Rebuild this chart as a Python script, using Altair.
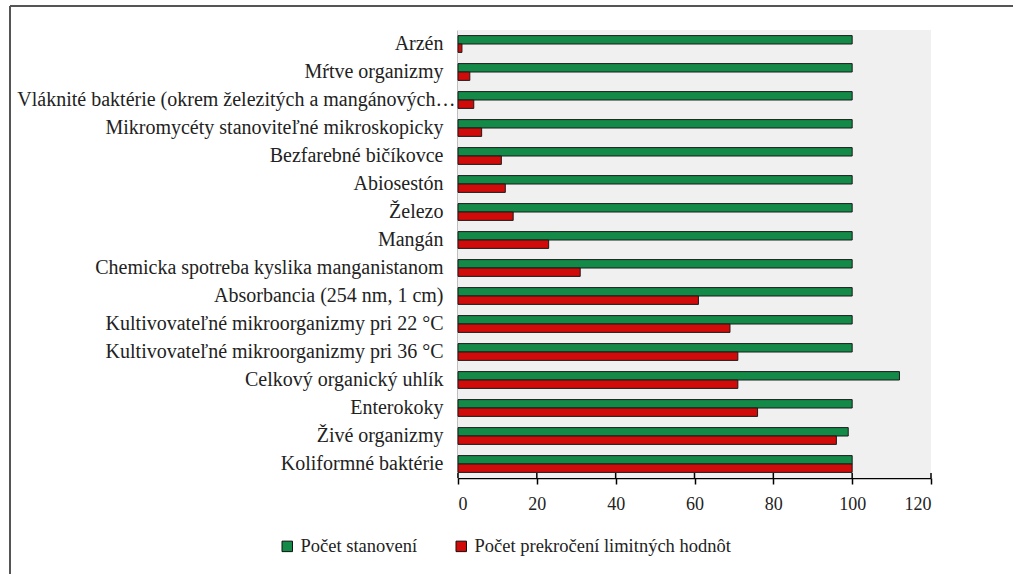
import altair as alt
import pandas as pd

categories = [
    "Arzén",
    "Mŕtve organizmy",
    "Vláknité baktérie (okrem železitých a mangánových…",
    "Mikromycéty stanoviteľné mikroskopicky",
    "Bezfarebné bičíkovce",
    "Abiosestón",
    "Železo",
    "Mangán",
    "Chemicka spotreba kyslika manganistanom",
    "Absorbancia (254 nm, 1 cm)",
    "Kultivovateľné mikroorganizmy pri 22 °C",
    "Kultivovateľné mikroorganizmy pri 36 °C",
    "Celkový organický uhlík",
    "Enterokoky",
    "Živé organizmy",
    "Koliformné baktérie",
]
stanovenia = [100, 100, 100, 100, 100, 100, 100, 100, 100, 100, 100, 100, 112, 100, 99, 100]
prekrocenia = [1, 3, 4, 6, 11, 12, 14, 23, 31, 61, 69, 71, 71, 76, 96, 100]
series = ["Počet stanovení", "Počet prekročení limitných hodnôt"]
colors = ["#138a47", "#d10a0a"]
x_ticks = [0, 20, 40, 60, 80, 100, 120]

rows = []
for c, a, b in zip(categories, stanovenia, prekrocenia):
    rows.append({"kat": c, "seria": series[0], "hodnota": a})
    rows.append({"kat": c, "seria": series[1], "hodnota": b})
df = pd.DataFrame(rows)

W, H = 473, 448
FONT = "Liberation Serif"

x_scale = alt.Scale(domain=[0, 120], nice=False)

bg = alt.Chart(pd.DataFrame({"a": [0], "b": [120]})).mark_rect(color="#f0f0f0").encode(
    x=alt.X("a:Q", scale=x_scale), x2="b:Q", y=alt.value(0), y2=alt.value(H)
)

# the long truncated label sits closer to the axis line
long_label_padding = {
    "condition": {"test": f"datum.value === '{categories[2]}'", "value": 3},
    "value": 15,
}

bars = alt.Chart(df).mark_bar(stroke="#1b1b1b", strokeWidth=1).encode(
    x=alt.X(
        "hodnota:Q",
        scale=x_scale,
        axis=alt.Axis(
            values=x_ticks, title=None, grid=False, domainColor="#000", domainWidth=1.5,
            tickColor="#000", tickSize=6, tickWidth=1.5, labelPadding=11, labelFontSize=18,
        ),
    ),
    y=alt.Y(
        "kat:N",
        sort=categories,
        scale=alt.Scale(paddingInner=0.4, paddingOuter=0.2),
        axis=alt.Axis(
            title=None, ticks=False, domainColor="#000", domainWidth=1.5,
            labelPadding=long_label_padding, labelLimit=500, labelFontSize=20,
        ),
    ),
    yOffset=alt.YOffset("seria:N", sort=series),
    color=alt.Color(
        "seria:N",
        sort=series,
        scale=alt.Scale(domain=series, range=colors),
        legend=alt.Legend(
            title=None, orient="none", direction="horizontal", legendX=-180, legendY=507,
            symbolType="square", symbolSize=110, symbolStrokeColor="#111", symbolStrokeWidth=1,
            labelLimit=500, columnPadding=34, labelOffset=4, labelFontSize=18.5,
        ),
    ),
)

# crossing tick halves above the x axis line
ticks_up = alt.Chart(pd.DataFrame({"t": x_ticks})).mark_rule(color="#000", strokeWidth=1.5).encode(
    x=alt.X("t:Q", scale=x_scale), y=alt.value(H - 5), y2=alt.value(H)
)

# outer frame around the figure
frame = alt.Chart(pd.DataFrame({"f": [0]})).mark_rule(color="#555", strokeWidth=2).encode(
    x=alt.value(-448), x2=alt.value(560), y=alt.value(-24)
)
frame_left = alt.Chart(pd.DataFrame({"f": [0]})).mark_rule(color="#555", strokeWidth=2).encode(
    x=alt.value(-448), y=alt.value(-24), y2=alt.value(560)
)

chart = (
    alt.layer(bg, bars, ticks_up, frame, frame_left)
    .properties(
        width=W, height=H,
        autosize=alt.AutoSizeParams(type="none"),
        padding={"left": 458, "top": 30, "right": 82, "bottom": 96},
        background="white",
    )
    .configure(font=FONT)
    .configure_axis(labelFont=FONT, labelColor="#222")
    .configure_legend(labelFont=FONT, labelColor="#222")
    .configure_view(stroke=None)
)

chart.save("out.html", embed_options={"renderer": "svg", "actions": False})
